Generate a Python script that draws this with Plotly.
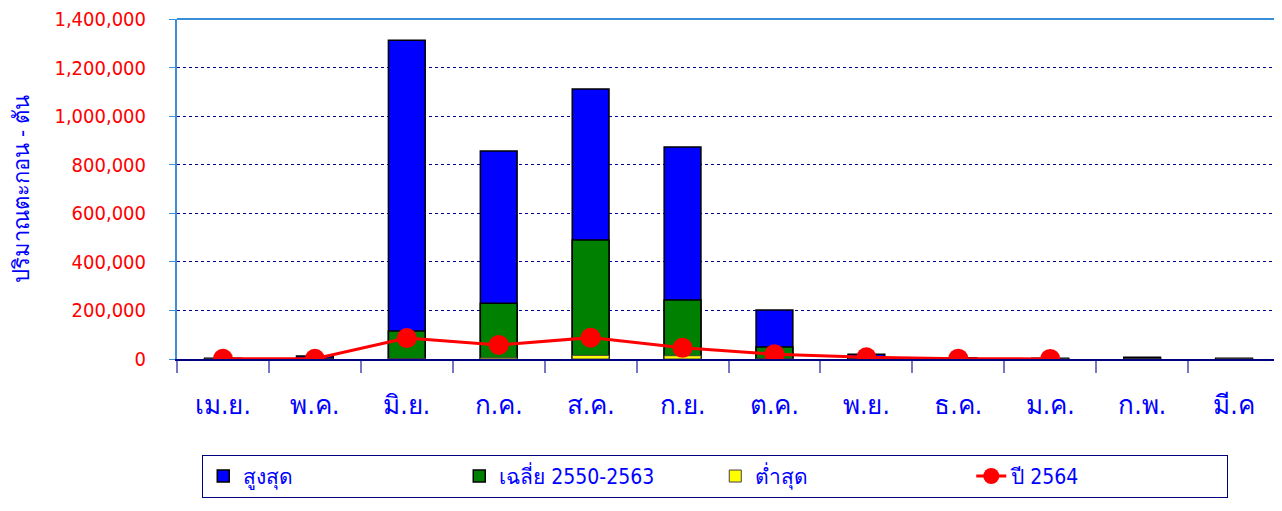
import plotly.graph_objects as go

# เดือน (ปีน้ำ เม.ย. - มี.ค)
months = ['เม.ย.', 'พ.ค.', 'มิ.ย.', 'ก.ค.', 'ส.ค.', 'ก.ย.', 'ต.ค.', 'พ.ย.', 'ธ.ค.', 'ม.ค.', 'ก.พ.', 'มี.ค']

# ปริมาณตะกอน - ตัน
sed_max = [3000, 12000, 1313000, 856000, 1112000, 873000, 202000, 20000, 5000, 3000, 7000, 3000]
sed_avg = [1000, 3000, 115000, 230000, 490000, 243000, 49000, 6000, 1500, 800, 1500, 800]
sed_min = [100, 300, 2000, 5000, 15000, 13500, 2000, 500, 200, 100, 100, 100]
sed_2564 = [1000, 1000, 86000, 58000, 88000, 46000, 20000, 7000, 1500, 500, None, None]

y_ticks = [0, 200000, 400000, 600000, 800000, 1000000, 1200000, 1400000]

thai_font = 'DejaVu Sans Condensed, Tahoma, sans-serif'

fig = go.Figure()
fig.add_trace(go.Bar(x=months, y=sed_max, name='สูงสุด', marker=dict(color='#0000ff', line=dict(color='#000000', width=1.5)), width=0.4))
fig.add_trace(go.Bar(x=months, y=sed_avg, name='เฉลี่ย 2550-2563', marker=dict(color='#008000', line=dict(color='#000000', width=1.5)), width=0.4))
fig.add_trace(go.Bar(x=months, y=sed_min, name='ต่ำสุด', marker=dict(color='#ffff00', line=dict(color='#404040', width=1)), width=0.4))
fig.add_trace(go.Scatter(x=months, y=sed_2564, name='ปี 2564', mode='lines+markers',
                         line=dict(color='#ff0000', width=3), marker=dict(color='#ff0000', size=20)))

# page body has an 8px margin, so the figure is sized/offset to match
fig.update_layout(
    width=1274, height=503,
    barmode='overlay',
    plot_bgcolor='white', paper_bgcolor='white',
    margin=dict(l=169, r=2, t=11, b=152),
    font=dict(family=thai_font),
    showlegend=True,
    legend=dict(orientation='h', x=0.488, xanchor='center', y=-0.282, yanchor='top',
                bordercolor='#000080', borderwidth=1, bgcolor='white',
                font=dict(size=21, color='#0000ff'),
                entrywidth=211, entrywidthmode='pixels',
                traceorder='normal'),
)
fig.update_xaxes(
    type='category', range=[-0.5, 11.5],
    showline=True, linecolor='#000080', linewidth=2,
    tickson='boundaries', ticks='outside', ticklen=12, tickcolor='#7777c4', tickwidth=2,
    tickfont=dict(size=26, color='#0000ff'), ticklabelstandoff=22,
    showgrid=False, automargin=False,
)
fig.update_yaxes(
    range=[0, 1400000], tickvals=y_ticks, tickformat=',d',
    tickfont=dict(size=20, color='#ff0000'), ticklabeloverflow='allow', ticklabelstandoff=19,
    showline=True, linecolor='#3a8fd8', linewidth=2, mirror=True,
    ticks='outside', ticklen=6, tickcolor='#3a8fd8',
    showgrid=True, gridcolor='#000099', griddash='dot', gridwidth=1,
    zeroline=False, automargin=False,
    title=dict(text='ปริมาณตะกอน - ตัน', font=dict(size=22, color='#0000ff'), standoff=19),
)
fig.add_shape(type='line', xref='paper', yref='paper', x0=0, x1=1, y0=1, y1=1,
              line=dict(color='#3a8fd8', width=2))

fig.write_html("out.html")
